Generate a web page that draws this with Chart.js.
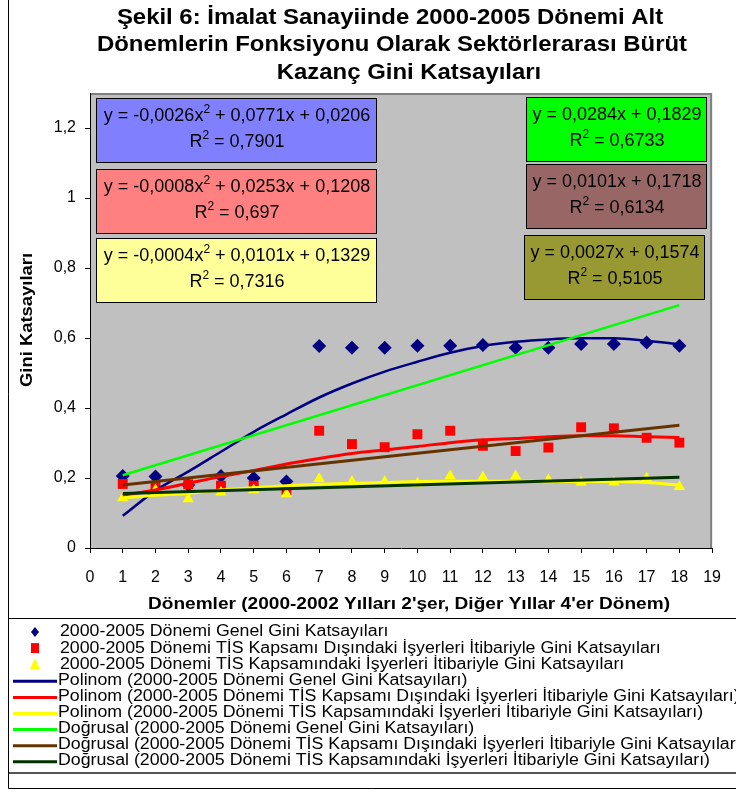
<!DOCTYPE html>
<html><head><meta charset="utf-8">
<script src="https://cdn.jsdelivr.net/npm/chart.js@4.4.0/dist/chart.umd.min.js"></script>
<style>html,body{margin:0;padding:0;background:#fff;overflow:hidden}</style>
</head><body>
<canvas id="c" width="736" height="792"></canvas>
<script>
// ---------- data ----------
const periods = [1,2,3,4,5,6,7,8,9,10,11,12,13,14,15,16,17,18];
const genelGini   = [0.206,0.204,0.180,0.206,0.200,0.190,0.577,0.572,0.572,0.578,0.578,0.580,0.572,0.572,0.583,0.583,0.587,0.578];
const disindaGini = [0.183,0.175,0.182,0.178,0.178,0.166,0.335,0.297,0.288,0.325,0.335,0.292,0.277,0.287,0.345,0.342,0.315,0.301];
const kapsamGini  = [0.143,0.166,0.140,0.159,0.166,0.154,0.198,0.190,0.190,0.185,0.206,0.202,0.206,0.194,0.188,0.188,0.199,0.175];
// trendlines as drawn in the picture
const polyGenel   = [0.092,0.164,0.218,0.275,0.332,0.382,0.430,0.470,0.504,0.532,0.558,0.577,0.589,0.596,0.599,0.599,0.592,0.582];
const polyDisinda = [0.151,0.166,0.185,0.204,0.221,0.240,0.256,0.270,0.280,0.290,0.301,0.309,0.313,0.318,0.321,0.321,0.318,0.316];
const polyKapsam  = [0.143,0.151,0.156,0.166,0.172,0.178,0.182,0.185,0.187,0.190,0.191,0.191,0.191,0.190,0.190,0.190,0.187,0.180];
const linEnds     = [1, 18];
const linGenel    = [0.208, 0.694];
const linDisinda  = [0.180, 0.351];
const linKapsam   = [0.156, 0.202];
const yTickValues = [0,0.2,0.4,0.6,0.8,1,1.2];
const titleLines = ["Şekil 6: İmalat Sanayiinde 2000-2005 Dönemi Alt","Dönemlerin Fonksiyonu Olarak Sektörlerarası Bürüt","Kazanç Gini Katsayıları"];
const xTitle = "Dönemler (2000-2002 Yılları 2'şer, Diğer Yıllar 4'er Dönem)";
const yTitle = "Gini Katsayıları";
const seriesNames = [
 "2000-2005 Dönemi Genel Gini Katsayıları",
 "2000-2005 Dönemi TİS Kapsamı Dışındaki İşyerleri İtibariyle Gini Katsayıları",
 "2000-2005 Dönemi TİS Kapsamındaki İşyerleri İtibariyle Gini Katsayıları"];
const equations = [
 ["y = -0,0026x^2 + 0,0771x + 0,0206","R^2 = 0,7901"],
 ["y = -0,0008x^2 + 0,0253x + 0,1208","R^2 = 0,697"],
 ["y = -0,0004x^2 + 0,0101x + 0,1329","R^2 = 0,7316"],
 ["y = 0,0284x + 0,1829","R^2 = 0,6733"],
 ["y = 0,0101x + 0,1718","R^2 = 0,6134"],
 ["y = 0,0027x + 0,1574","R^2 = 0,5105"]];

// ---------- helpers ----------
const pts = (xs, ys) => xs.map((x,i)=>({x, y: ys[i]}));
const FF = '"Liberation Sans", Arial, sans-serif';
const fmt = v => String(Math.round(v*10)/10).replace('.', ',');

function fitText(ctx, text, x, y, font, sx, align) {
  ctx.save(); ctx.font = font; ctx.translate(x, y); ctx.scale(sx, 1);
  ctx.textAlign = align || 'center'; ctx.textBaseline = 'middle'; ctx.fillStyle = '#000';
  ctx.fillText(text, 0, 0); ctx.restore();
}
function supText(ctx, text, cx, cy) {
  const parts = text.split('^2');
  const big = '18px ' + FF, small = '12px ' + FF;
  const widths = parts.map(p => { ctx.font = big; return ctx.measureText(p).width; });
  ctx.font = small; const sw = ctx.measureText('2').width;
  const w = widths.reduce((a,b)=>a+b,0) + sw*(parts.length-1);
  let x = cx - w/2;
  ctx.fillStyle = '#000'; ctx.textBaseline = 'middle'; ctx.textAlign = 'left';
  parts.forEach((p,i) => {
    ctx.font = big; ctx.fillText(p, x, cy); x += widths[i];
    if (i < parts.length-1) { ctx.font = small; ctx.fillText('2', x, cy-6); x += sw; }
  });
}

const boxes = [
 {x:96, y:98, w:280, h:64, c:'#8080FF'},
 {x:96, y:169, w:280, h:64, c:'#FF8080'},
 {x:96, y:238, w:280, h:64, c:'#FFFF99'},
 {x:526, y:97, w:180, h:64, c:'#00FF00'},
 {x:526, y:164, w:180, h:64, c:'#996666'},
 {x:524, y:235, w:180, h:64, c:'#999933'}];

const decor = {
  id: 'decor',
  beforeDraw(chart) {
    const {ctx, chartArea: a} = chart;
    ctx.save();
    ctx.fillStyle = '#C0C0C0'; ctx.fillRect(a.left, a.top, a.right-a.left, a.bottom-a.top);
    ctx.strokeStyle = '#808080'; ctx.lineWidth = 2;
    ctx.beginPath(); ctx.moveTo(a.left, a.top+1); ctx.lineTo(a.right-1, a.top+1); ctx.lineTo(a.right-1, a.bottom); ctx.stroke();
    ctx.restore();
  },
  afterDatasetsDraw(chart) {
    const ctx = chart.ctx;
    ctx.save();
    boxes.forEach((b,i) => {
      ctx.fillStyle = b.c; ctx.fillRect(b.x, b.y, b.w, b.h);
      ctx.strokeStyle = '#000'; ctx.lineWidth = 1; ctx.strokeRect(b.x+0.5, b.y+0.5, b.w, b.h);
      supText(ctx, equations[i][0], b.x + b.w/2 + 1, b.y + 18);
      supText(ctx, equations[i][1], b.x + b.w/2 + 1, b.y + 44);
    });
    ctx.restore();
  },
  afterDraw(chart) {
    const ctx = chart.ctx;
    ctx.save();
    // outer frame
    ctx.strokeStyle = '#000'; ctx.lineWidth = 1;
    ctx.beginPath(); ctx.moveTo(8.5, 0); ctx.lineTo(8.5, 788.5); ctx.lineTo(736, 788.5); ctx.stroke();
    ctx.beginPath(); ctx.moveTo(8.5, 618.5); ctx.lineTo(736, 618.5); ctx.stroke();
    ctx.strokeStyle = '#555'; ctx.lineWidth = 2;
    ctx.beginPath(); ctx.moveTo(9, 773); ctx.lineTo(736, 773); ctx.stroke();

    // title
    const tf = 'bold 22px ' + FF;
    ctx.font = tf; const tsx = 590 / ctx.measureText(titleLines[1]).width;
    const tcx = [390, 392, 409], tcy = [18, 45, 73];
    titleLines.forEach((t,i) => fitText(ctx, t, tcx[i], tcy[i], tf, tsx));

    // axis titles
    const af = 'bold 16px ' + FF;
    ctx.font = af; fitText(ctx, xTitle, 409, 605, af, 522 / ctx.measureText(xTitle).width);
    ctx.save(); ctx.translate(28, 320); ctx.rotate(-Math.PI/2);
    ctx.font = af; fitText(ctx, yTitle, 0, 0, af, 134 / ctx.measureText(yTitle).width);
    ctx.restore();

    // legend
    const lf = '16px ' + FF;
    const ds = chart.data.datasets;
    ctx.font = lf; const lsx = 652 / ctx.measureText(ds[8].label).width;
    ds.forEach((d,i) => {
      const y = 632 + i*16.1;
      if (i < 3) {
        ctx.fillStyle = d.backgroundColor;
        ctx.beginPath();
        if (d.pointStyle === 'rectRot') { ctx.moveTo(35,y-5); ctx.lineTo(39,y); ctx.lineTo(35,y+5); ctx.lineTo(31,y); }
        else if (d.pointStyle === 'rect') { ctx.rect(31, y-5, 8, 10); }
        else { ctx.moveTo(35,y-6); ctx.lineTo(40,y+5); ctx.lineTo(30,y+5); }
        ctx.closePath(); ctx.fill();
        fitText(ctx, d.label, 60, y, lf, lsx, 'left');
      } else {
        ctx.strokeStyle = d.borderColor; ctx.lineWidth = 3;
        ctx.beginPath(); ctx.moveTo(13, y+1); ctx.lineTo(57, y+1); ctx.stroke();
        fitText(ctx, d.label, 58, y, lf, lsx, 'left');
      }
    });
    ctx.restore();
  }
};

const trend = (label, xs, ys, color, w, tension, order) => ({
  label, data: pts(xs, ys), showLine: true, borderColor: color, backgroundColor: color,
  borderWidth: w, pointRadius: 0, pointHoverRadius: 0, tension, cubicInterpolationMode: 'monotone', order, fill: false
});

new Chart(document.getElementById('c'), {
  type: 'scatter',
  data: { datasets: [
    { label: seriesNames[0], data: pts(periods, genelGini), pointStyle: 'rectRot', pointRadius: 7, backgroundColor: '#000080', borderColor: '#000080', borderWidth: 0, order: 8 },
    { label: seriesNames[1], data: pts(periods, disindaGini), pointStyle: 'rect', pointRadius: 7, backgroundColor: '#FF0000', borderColor: '#FF0000', borderWidth: 0, order: 7 },
    { label: seriesNames[2], data: pts(periods, kapsamGini), pointStyle: 'triangle', pointRadius: 6.5, backgroundColor: '#FFFF00', borderColor: '#FFFF00', borderWidth: 0, order: 6 },
    trend('Polinom (' + seriesNames[0] + ')', periods, polyGenel, '#000080', 2.5, 0.4, 5),
    trend('Polinom (' + seriesNames[1] + ')', periods, polyDisinda, '#FF0000', 3, 0.4, 3),
    trend('Polinom (' + seriesNames[2] + ')', periods, polyKapsam, '#FFFF00', 3, 0.4, 1),
    trend('Doğrusal (' + seriesNames[0] + ')', linEnds, linGenel, '#00FF00', 2.5, 0, 4),
    trend('Doğrusal (' + seriesNames[1] + ')', linEnds, linDisinda, '#663300', 3, 0, 2),
    trend('Doğrusal (' + seriesNames[2] + ')', linEnds, linKapsam, '#003300', 3, 0, 0)
  ]},
  options: {
    responsive: false, animation: false, devicePixelRatio: 1,
    layout: { padding: { left: 0, right: 22, top: 93, bottom: 194 } },
    plugins: { legend: { display: false }, title: { display: false }, tooltip: { enabled: false } },
    events: [],
    scales: {
      x: {
        type: 'linear', min: 0, max: 19,
        ticks: { stepSize: 1, color: '#000', font: { family: FF, size: 16 }, padding: 15, maxRotation: 0, autoSkip: false },
        grid: { display: true, drawOnChartArea: false, drawTicks: true, tickLength: 5, color: '#000' },
        border: { display: true, color: '#000', width: 1 },
        afterFit: s => { s.height = 50; }
      },
      y: {
        type: 'linear', min: 0, max: 1.3,
        afterBuildTicks: s => { s.ticks = yTickValues.map(v => ({value: v})); },
        ticks: { color: '#000', font: { family: FF, size: 16 }, padding: 9, callback: v => fmt(v) },
        grid: { display: true, drawOnChartArea: false, drawTicks: true, tickLength: 5, color: '#000' },
        border: { display: true, color: '#000', width: 1 },
        afterFit: s => { s.width = 90; }
      }
    }
  },
  plugins: [decor]
});
</script>
</body></html>
